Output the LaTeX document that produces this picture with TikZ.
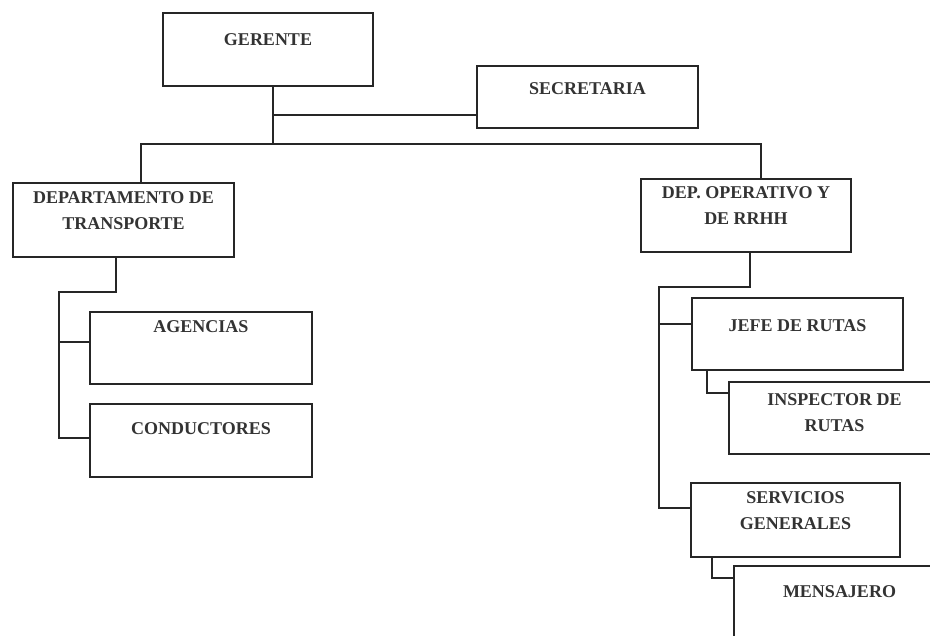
\documentclass[tikz,border=0pt]{standalone}
\usepackage{fontspec}
\setmainfont{Liberation Serif}
\usetikzlibrary{positioning}

\begin{document}
\begin{tikzpicture}[x=1pt,y=-1pt,-,node distance=1cm,
    caja/.style={draw=black!85,line width=2pt,rectangle,inner sep=0pt,minimum width=210pt,minimum height=73pt},
    texto/.style={inner sep=0pt,align=center,text=black!80,font=\bfseries\fontsize{18}{26}\selectfont},
    linea/.style={draw=black!85,line width=2pt}]

    \useasboundingbox (0,0) rectangle (930,636);
    \clip (0,0) rectangle (930,636);

    % cajas
    \node[caja] (gerente) at (268,49.5) {};
    \node[caja, minimum width=221pt, minimum height=62pt] (secretaria) at (587.5,97) {};
    \node[caja, minimum width=221pt, minimum height=74pt] (transporte) at (123.5,220) {};
    \node[caja] (operativo) at (746,215.5) {};
    \node[caja, minimum width=222pt, minimum height=72pt] (agencias) at (201,348) {};
    \node[caja, minimum width=222pt] (conductores) at (201,440.5) {};
    \node[caja, minimum width=211pt, minimum height=72pt] (jefe) at (797.5,334) {};
    \node[caja, minimum width=211pt, minimum height=72pt] (inspector) at (834.5,418) {};
    \node[caja, minimum width=209pt, minimum height=74pt] (servicios) at (795.5,520) {};
    \node[caja, minimum width=211pt, minimum height=74pt] (mensajero) at (839.5,603) {};

    % textos
    \node[texto] (t1) [below=21pt of gerente.north] {GERENTE};
    \node[texto] (t2) [below=17pt of secretaria.north] {SECRETARIA};
    \node[texto] (t3) [below=9pt of transporte.north] {DEPARTAMENTO DE\\TRANSPORTE};
    \node[texto] (t4) [below=8pt of operativo.north] {DEP. OPERATIVO Y\\DE RRHH};
    \node[texto] (t5) [below=9pt of agencias.north] {AGENCIAS};
    \node[texto] (t6) [below=19pt of conductores.north] {CONDUCTORES};
    \node[texto] (t7) [below=22pt of jefe.north] {JEFE DE RUTAS};
    \node[texto] (t8) [below=12pt of inspector.north] {INSPECTOR DE\\RUTAS};
    \node[texto] (t9) [below=9pt of servicios.north] {SERVICIOS\\GENERALES};
    \node[texto] (t10) [below=20pt of mensajero.north] {MENSAJERO};

    % conexiones
    \coordinate (tronco) at (273,144);
    \coordinate (sec) at (273,115);
    \coordinate (izq) at (141,144);
    \coordinate (der) at (761,144);
    \coordinate (l1) at (116,292);
    \coordinate (l2) at (59,292);
    \coordinate (r1) at (750,287);
    \coordinate (r2) at (659,287);
    \coordinate (ag) at ([yshift=6pt]agencias.west);
    \coordinate (co) at ([yshift=2.5pt]conductores.west);
    \coordinate (je) at ([yshift=10pt]jefe.west);
    \coordinate (se) at ([yshift=12pt]servicios.west);

    \path[linea]
        (gerente.south -| tronco) -- (tronco)
        (sec) -- (sec -| secretaria.west)
        (transporte.north -| izq) -- (izq) -- (der) -- (der |- operativo.north)
        (transporte.south -| l1) -- (l1) -- (l2) |- (co)
        (l2 |- ag) -- (ag)
        (operativo.south -| r1) -- (r1) -- (r2) |- (se)
        (r2 |- je) -- (je)
        ([xshift=-90.5pt]jefe.south) |- ([yshift=25pt]inspector.west)
        ([xshift=-83.5pt]servicios.south) |- ([yshift=25pt]mensajero.west)
    ;
\end{tikzpicture}
\end{document}
